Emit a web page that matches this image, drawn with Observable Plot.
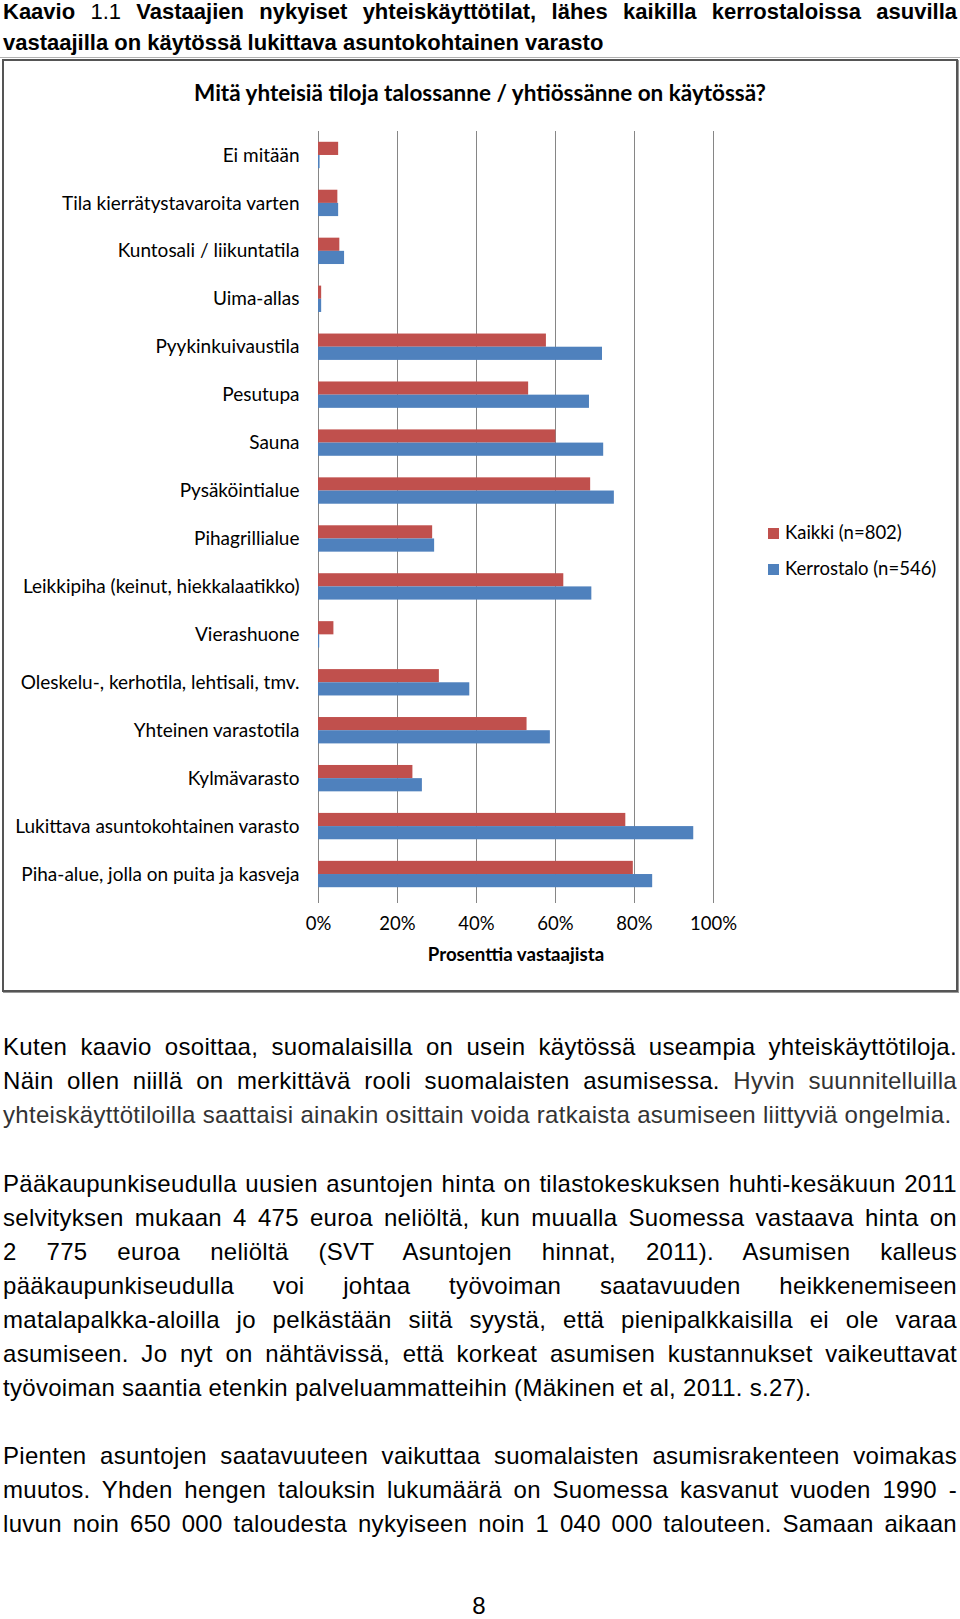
<!DOCTYPE html>
<html>
<head>
<meta charset="utf-8">
<script src="https://cdn.jsdelivr.net/npm/d3@7"></script>
<script src="https://cdn.jsdelivr.net/npm/@observablehq/plot@0.6"></script>
<style>
  html, body { margin: 0; padding: 0; background: #fff; }
  #page { position: relative; width: 960px; height: 1619px; overflow: hidden; font-family: "Liberation Sans", Arial, sans-serif; color: #000; }
  #heading { position: absolute; left: 3px; top: 0px; width: 954px; font-size: 22px; font-weight: bold; line-height: 23px; }
  #heading div { text-align: justify; text-align-last: justify; }
  #heading div.last { text-align-last: left; margin-top: 8px; }
  #heading .num { font-weight: normal; }
  #rule { position: absolute; left: 0; top: 57px; width: 960px; height: 1px; background: #b0b0b0; }
  #box { position: absolute; left: 2px; top: 59px; width: 952px; height: 929px; border: 2px solid #555; box-shadow: 1px 1px 0 #999; }
  #chart { position: absolute; left: 3px; top: 60px; }
  #ctitle { position: absolute; left: 0; width: 960px; top: 79px; text-align: center; font-family: Lato, sans-serif; font-weight: bold; font-size: 22.5px; line-height: 28px; }
  .leg { position: absolute; left: 768px; font-family: Lato, sans-serif; font-size: 18.5px; line-height: 22px; }
  .leg i { display: inline-block; width: 11px; height: 11px; margin-right: 6px; vertical-align: 0px; }
  .para { position: absolute; left: 3px; width: 954px; font-size: 24px; letter-spacing: 0.3px; line-height: 34px; }
  .para div { text-align: justify; text-align-last: justify; }
  .para div.last { text-align-last: left; }
  .g { color: #333; }
  #pnum { position: absolute; left: 0; width: 958px; top: 1594px; text-align: center; font-size: 24px; line-height: 24px; }
</style>
</head>
<body>
<div id="page">
  <div id="heading">
    <div>Kaavio <span class="num">1.1</span> Vastaajien nykyiset yhteiskäyttötilat, lähes kaikilla kerrostaloissa asuvilla</div>
    <div class="last">vastaajilla on käytössä lukittava asuntokohtainen varasto</div>
  </div>
  <div id="rule"></div>
  <div id="box"></div>
  <div id="chart"></div>
  <div id="ctitle">Mitä yhteisiä tiloja talossanne / yhtiössänne on käytössä?</div>
  <div class="leg" style="top:521px"><i style="background:#C0504D"></i>Kaikki (n=802)</div>
  <div class="leg" style="top:557px"><i style="background:#4F81BD"></i>Kerrostalo (n=546)</div>

  <div class="para" style="top:1030px">
    <div>Kuten kaavio osoittaa, suomalaisilla on usein käytössä useampia yhteiskäyttötiloja.</div>
    <div>Näin ollen niillä on merkittävä rooli suomalaisten asumisessa. <span class="g">Hyvin suunnitelluilla</span></div>
    <div class="last g">yhteiskäyttötiloilla saattaisi ainakin osittain voida ratkaista asumiseen liittyviä ongelmia.</div>
  </div>
  <div class="para" style="top:1167px">
    <div>Pääkaupunkiseudulla uusien asuntojen hinta on tilastokeskuksen huhti-kesäkuun 2011</div>
    <div>selvityksen mukaan 4 475 euroa neliöltä, kun muualla Suomessa vastaava hinta on</div>
    <div>2 775 euroa neliöltä (SVT Asuntojen hinnat, 2011). Asumisen kalleus</div>
    <div>pääkaupunkiseudulla voi johtaa työvoiman saatavuuden heikkenemiseen</div>
    <div>matalapalkka-aloilla jo pelkästään siitä syystä, että pienipalkkaisilla ei ole varaa</div>
    <div>asumiseen. Jo nyt on nähtävissä, että korkeat asumisen kustannukset vaikeuttavat</div>
    <div class="last">työvoiman saantia etenkin palveluammatteihin (Mäkinen et al, 2011. s.27).</div>
  </div>
  <div class="para" style="top:1439px">
    <div>Pienten asuntojen saatavuuteen vaikuttaa suomalaisten asumisrakenteen voimakas</div>
    <div>muutos. Yhden hengen talouksin lukumäärä on Suomessa kasvanut vuoden 1990 -</div>
    <div>luvun noin 650 000 taloudesta nykyiseen noin 1 040 000 talouteen. Samaan aikaan</div>
  </div>
  <div id="pnum">8</div>
</div>
<script>
const categories = [
  "Ei mitään",
  "Tila kierrätystavaroita varten",
  "Kuntosali / liikuntatila",
  "Uima-allas",
  "Pyykinkuivaustila",
  "Pesutupa",
  "Sauna",
  "Pysäköintialue",
  "Pihagrillialue",
  "Leikkipiha (keinut, hiekkalaatikko)",
  "Vierashuone",
  "Oleskelu-, kerhotila, lehtisali, tmv.",
  "Yhteinen varastotila",
  "Kylmävarasto",
  "Lukittava asuntokohtainen varasto",
  "Piha-alue, jolla on puita ja kasveja"
];
const kaikki =     [5.1, 4.9, 5.4, 0.8, 57.7, 53.2, 60.1, 68.9, 28.9, 62.1, 3.9, 30.6, 52.8, 23.9, 77.8, 79.7];
const kerrostalo = [0.4, 5.1, 6.6, 0.8, 71.9, 68.6, 72.2, 74.9, 29.4, 69.2, 0.3, 38.3, 58.7, 26.3, 95.0, 84.6];
const xTicks = [0, 20, 40, 60, 80, 100];

const rows = categories.map((c, i) => ({cat: c, kaikki: kaikki[i], kerrostalo: kerrostalo[i]}));

const half = 13.18;
const chart = Plot.plot({
  width: 955,
  height: 932,
  marginLeft: 315,
  marginRight: 245,
  marginTop: 71,
  marginBottom: 89,
  style: {fontFamily: "Lato, sans-serif", fontSize: "18.5px", color: "#000", background: "transparent", overflow: "visible"},
  x: {domain: [0, 100], ticks: xTicks, tickFormat: d => d + "%", label: null, tickSize: 0, tickPadding: 13},
  y: {domain: categories, paddingInner: 0.45, paddingOuter: 0.225, insetBottom: 5, round: false, label: null, tickSize: 0, tickPadding: 19},
  marks: [
    Plot.ruleX(xTicks, {stroke: "#868686", strokeWidth: 1}),
    Plot.barX(rows, {x: "kaikki", y: "cat", fill: "#C0504D", insetBottom: half}),
    Plot.barX(rows, {x: "kerrostalo", y: "cat", fill: "#4F81BD", insetTop: half}),
    Plot.text(["Prosenttia vastaajista"], {text: d => d, frameAnchor: "bottom", dy: 57, fontWeight: "bold", fontSize: 18.7, fill: "#000"})
  ]
});
chart.querySelectorAll('[aria-label="y-axis tick label"] text, [aria-label="y-axis"] text').forEach(t => t.setAttribute("font-size", 19));
document.getElementById("chart").appendChild(chart);
</script>
</body>
</html>
